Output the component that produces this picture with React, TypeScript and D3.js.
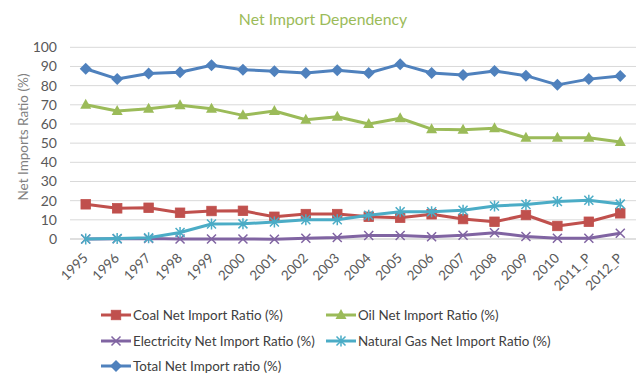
import React from "react";
import * as d3 from "d3";

const years = ["1995","1996","1997","1998","1999","2000","2001","2002","2003","2004","2005","2006","2007","2008","2009","2010","2011_P","2012_P"];
const coal = [18.1,16.0,16.3,13.7,14.6,14.7,11.6,13.0,13.0,11.6,11.1,12.9,10.4,9.0,12.5,6.8,9.0,13.4];
const oil = [70.0,66.8,68.0,69.8,68.0,64.5,66.8,62.2,63.8,60.0,63.0,57.3,57.0,57.8,52.8,52.8,52.8,50.6];
const electricity = [0.0,0.1,0.3,0.0,0.0,0.0,-0.1,0.4,0.8,1.8,1.8,1.2,2.0,3.3,1.3,0.4,0.4,3.0];
const naturalGas = [0.0,0.2,0.6,3.4,7.8,7.9,8.9,10.0,10.0,12.4,14.2,14.2,15.0,17.2,18.0,19.6,20.2,18.2];
const total = [88.8,83.5,86.3,87.0,90.6,88.3,87.5,86.6,88.0,86.6,91.2,86.6,85.5,87.6,85.2,80.4,83.4,85.0];
const yTicks = [0,10,20,30,40,50,60,70,80,90,100];

const seriesNames = [
  "Coal Net Import Ratio (%)",
  "Oil Net Import Ratio (%)",
  "Electricity Net Import Ratio (%)",
  "Natural Gas Net Import Ratio (%)",
  "Total Net Import ratio (%)",
];

type Shape = "square" | "triangle" | "x" | "star" | "diamond";
const series: { name: string; values: number[]; color: string; shape: Shape }[] = [
  { name: seriesNames[0], values: coal, color: "#C0504D", shape: "square" },
  { name: seriesNames[1], values: oil, color: "#9BBB59", shape: "triangle" },
  { name: seriesNames[2], values: electricity, color: "#8064A2", shape: "x" },
  { name: seriesNames[3], values: naturalGas, color: "#4BACC6", shape: "star" },
  { name: seriesNames[4], values: total, color: "#4F81BD", shape: "diamond" },
];

const FONT = "Lato, 'Liberation Sans', sans-serif";

function Marker({ shape, x, y, color }: { shape: Shape; x: number; y: number; color: string }) {
  if (shape === "square") {
    const s = 9.5;
    return <rect x={x - s / 2} y={y - s / 2} width={s} height={s} fill={color} stroke={color} strokeWidth={0.8} />;
  }
  if (shape === "triangle") {
    const w = 11, h = 10;
    return <path d={`M${x},${y - h * 0.6}L${x + w / 2},${y + h * 0.4}L${x - w / 2},${y + h * 0.4}Z`} fill={color} />;
  }
  if (shape === "diamond") {
    const r = 6;
    return <path d={`M${x},${y - r}L${x + r},${y}L${x},${y + r}L${x - r},${y}Z`} fill={color} />;
  }
  if (shape === "x") {
    const r = 4.5;
    return <path d={`M${x - r},${y - r}L${x + r},${y + r}M${x - r},${y + r}L${x + r},${y - r}`} stroke={color} strokeWidth={1.5} fill="none" />;
  }
  const r = 4.5;
  return (
    <path
      d={`M${x - r},${y - r}L${x + r},${y + r}M${x - r},${y + r}L${x + r},${y - r}M${x},${y - r - 1}L${x},${y + r + 1}`}
      stroke={color}
      strokeWidth={1.5}
      fill="none"
    />
  );
}

export default function App() {
  const width = 644, height = 374;
  const x = d3.scalePoint<string>().domain(years).range([70, 636]).padding(0.5);
  const y = d3.scaleLinear().domain([0, 100]).range([239, 47.3]);
  const line = d3
    .line<number>()
    .x((_, i) => x(years[i]) as number)
    .y((d) => y(d));

  const legendPos = [
    { lx: 101, row: 0 },
    { lx: 326, row: 0 },
    { lx: 101, row: 1 },
    { lx: 326, row: 1 },
    { lx: 101, row: 2 },
  ];
  const rowY = [315, 341, 366];

  return (
    <svg width={width} height={height} style={{ display: "block", position: "absolute", left: 0, top: 0 }} fontFamily={FONT}>
      <rect width={width} height={height} fill="#fff" />
      <text x={323} y={24.5} textAnchor="middle" fontSize={15.8} fill="#9BBB59">
        Net Import Dependency
      </text>
      {yTicks.map((t) => (
        <g key={t}>
          <line x1={70} x2={636} y1={y(t)} y2={y(t)} stroke={t === 0 ? "#BFBFBF" : "#D9D9D9"} strokeWidth={1} />
          <text x={57} y={y(t)} dy="0.35em" textAnchor="end" fontSize={14} fill="#595959">
            {t}
          </text>
        </g>
      ))}
      <text transform={`translate(23,137) rotate(-90)`} textAnchor="middle" dy="0.35em" fontSize={13.5} fill="#808080">
        Net Imports Ratio (%)
      </text>
      {years.map((yr) => (
        <text
          key={yr}
          transform={`translate(${(x(yr) as number) + 3},259) rotate(-45)`}
          textAnchor="end"
          fontSize={13.5}
          fill="#595959"
        >
          {yr}
        </text>
      ))}
      {series.map((s) => (
        <g key={s.name}>
          <path d={line(s.values) || ""} fill="none" stroke={s.color} strokeWidth={3} strokeLinejoin="round" />
          {s.values.map((v, i) => (
            <Marker key={i} shape={s.shape} x={x(years[i]) as number} y={y(v)} color={s.color} />
          ))}
        </g>
      ))}
      {series.map((s, i) => {
        const p = legendPos[i];
        const cy = rowY[p.row];
        return (
          <g key={"lg" + s.name}>
            <line x1={p.lx} x2={p.lx + 30} y1={cy} y2={cy} stroke={s.color} strokeWidth={3} />
            <Marker shape={s.shape} x={p.lx + 15} y={cy} color={s.color} />
            <text x={p.lx + 32} y={cy} dy="0.35em" fontSize={13.4} fill="#404040">
              {s.name}
            </text>
          </g>
        );
      })}
    </svg>
  );
}
